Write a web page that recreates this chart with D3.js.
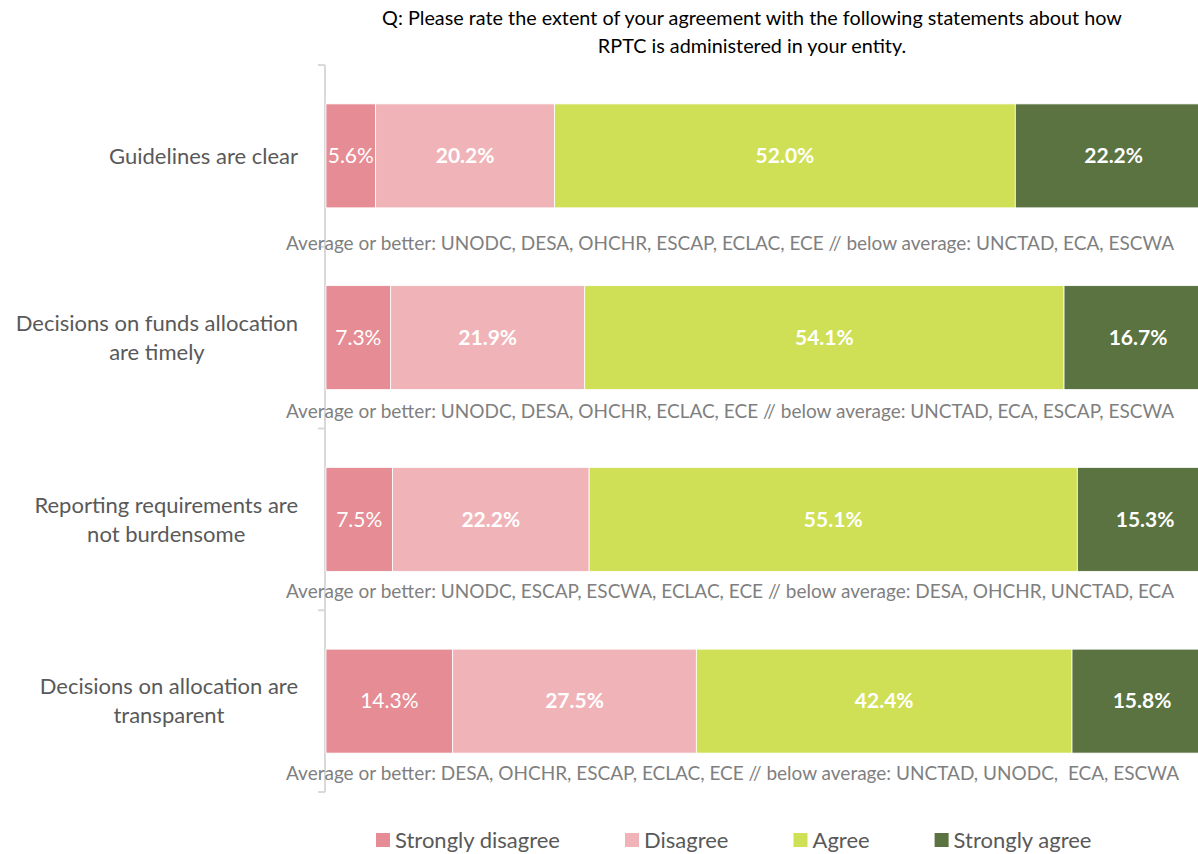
<!DOCTYPE html>
<html><head><meta charset="utf-8">
<script src="https://cdn.jsdelivr.net/npm/d3@7"></script>
<style>body{margin:0;background:#fff}svg{display:block}text{font-family:Lato,"Open Sans",sans-serif}</style>
</head><body><svg id="c" width="1198" height="854"></svg>
<script>
const titleLines = ["Q: Please rate the extent of your agreement with the following statements about how", "RPTC is administered in your entity."];
const categories = ["Guidelines are clear", "Decisions on funds allocation\nare timely", "Reporting requirements are\nnot burdensome", "Decisions on allocation are\ntransparent"];
const seriesNames = ["Strongly disagree", "Disagree", "Agree", "Strongly agree"];
const stronglyDisagree = [5.6, 7.3, 7.5, 14.3];
const disagree = [20.2, 21.9, 22.2, 27.5];
const agree = [52.0, 54.1, 55.1, 42.4];
const stronglyAgree = [22.2, 16.7, 15.3, 15.8];
const notes = [
 "Average or better: UNODC, DESA, OHCHR, ESCAP, ECLAC, ECE // below average: UNCTAD, ECA, ESCWA",
 "Average or better: UNODC, DESA, OHCHR, ECLAC, ECE // below average: UNCTAD, ECA, ESCAP, ESCWA",
 "Average or better: UNODC, ESCAP, ESCWA, ECLAC, ECE // below average: DESA, OHCHR, UNCTAD, ECA",
 "Average or better: DESA, OHCHR, ESCAP, ECLAC, ECE // below average: UNCTAD, UNODC,  ECA, ESCWA"
];
const colors = ["#E58C94", "#F0B4B8", "#CFE056", "#5A7340"];

const svg = d3.select("#c");
const rows = categories.map((c, i) => ({cat: c, vals: [stronglyDisagree[i], disagree[i], agree[i], stronglyAgree[i]]}));
const stack = d3.stack().keys([0,1,2,3]).value((d, k) => d.vals[k])(rows);

const x = d3.scaleLinear().domain([0, 100]).range([326, 1212]);
const y = d3.scaleBand().domain(categories).range([65, 792]).paddingInner(0.428).paddingOuter(0.214);

// title
svg.append("g").selectAll("text").data(titleLines).join("text")
  .attr("x", 752).attr("y", (d, i) => 25 + i * 28).attr("text-anchor", "middle")
  .attr("font-size", 19.8).attr("fill", "#000").text(d => d);

// axis line + ticks
const ax = svg.append("g").attr("stroke", "#d9d9d9").attr("stroke-width", 2);
ax.append("line").attr("x1", 325).attr("x2", 325).attr("y1", 65).attr("y2", 792);
const bounds = d3.range(categories.length + 1).map(i => 65 + i * (792 - 65) / categories.length);
ax.selectAll("line.t").data(bounds).join("line").attr("class", "t")
  .attr("x1", 318).attr("x2", 325).attr("y1", d => d).attr("y2", d => d);

// bars
const g = svg.append("g");
stack.forEach((layer, k) => {
  g.selectAll(null).data(layer).join("rect")
    .attr("x", d => x(d[0])).attr("width", d => x(d[1]) - x(d[0]))
    .attr("y", d => y(d.data.cat)).attr("height", y.bandwidth())
    .attr("fill", colors[k]).attr("stroke", "#fff").attr("stroke-width", 0.8);
  g.selectAll(null).data(layer).join("text")
    .attr("x", d => (x(d[0]) + x(d[1])) / 2).attr("y", d => y(d.data.cat) + y.bandwidth() / 2)
    .attr("dy", "0.35em").attr("text-anchor", "middle")
    .attr("font-size", 21).attr("font-weight", k === 0 ? 400 : 700).attr("fill", "#fff")
    .text(d => (d[1] - d[0]).toFixed(1) + "%");
});

// category labels
categories.forEach(c => {
  const lines = c.split("\n");
  const t = svg.append("text").attr("font-size", 22).attr("fill", "#595959").attr("text-anchor", "middle");
  const cy = y(c) + y.bandwidth() / 2;
  const lh = 29;
  lines.forEach((l, j) => {
    t.append("tspan").attr("x", 0).attr("y", cy + (j - (lines.length - 1) / 2) * lh).attr("dy", "0.35em").text(l);
  });
  const w = t.node().getBBox().width;
  t.selectAll("tspan").attr("x", 298 - w / 2);
});

// notes
const noteDy = [35, 22, 20, 20];
svg.append("g").selectAll("text").data(notes).join("text")
  .attr("x", 286).attr("y", (d, i) => y(categories[i]) + y.bandwidth() + noteDy[i])
  .attr("dy", "0.35em").attr("font-size", 19).attr("fill", "#7f7f7f")
  .attr("xml:space", "preserve").style("white-space", "pre").text(d => d);

// legend
const lg = svg.append("g");
let lx = 376;
seriesNames.forEach((s, i) => {
  lg.append("rect").attr("x", lx).attr("y", 833).attr("width", 14).attr("height", 14).attr("fill", colors[i]);
  const t = lg.append("text").attr("x", lx + 19).attr("y", 840).attr("dy", "0.35em").attr("font-size", 22).attr("fill", "#595959").text(s);
  lx += 19 + t.node().getComputedTextLength() + 65;
});
</script></body></html>
